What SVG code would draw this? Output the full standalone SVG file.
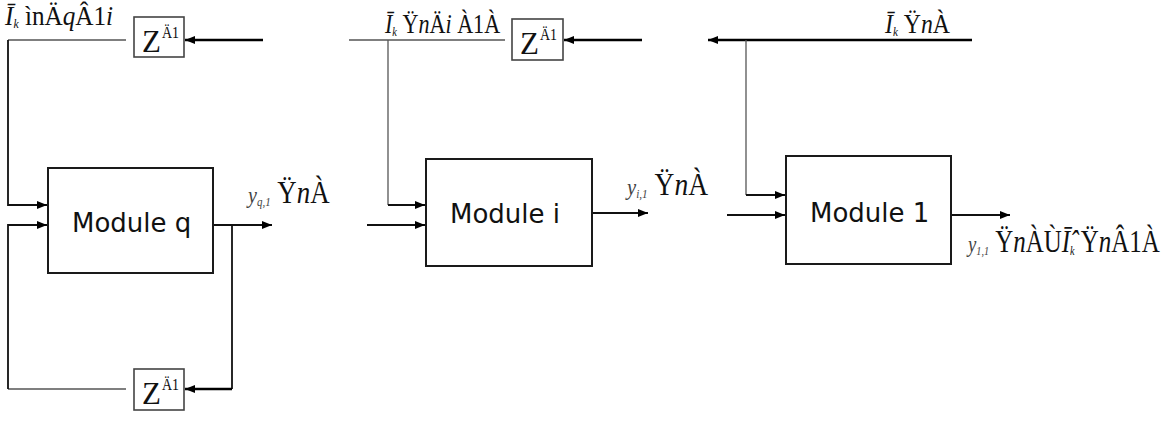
<svg xmlns="http://www.w3.org/2000/svg" width="1167" height="427" viewBox="0 0 1167 427">
<style>
.mod{fill:#fff;stroke:#1a1a1a;stroke-width:2}
.zb{fill:#fff;stroke:#444;stroke-width:1.6}
.mt{font-family:"DejaVu Sans",sans-serif;font-size:26px;fill:#111}
.lab{font-family:"Liberation Serif",serif;fill:#111}
.it{font-style:italic}
.sub{font-size:13px;font-style:italic}
.big{font-size:32px}
.mid{font-size:28px}
.yy{font-size:24px;font-style:italic;fill:#444}
.ys{font-size:13px;font-style:italic;fill:#444}
.thin{fill:none;stroke:#555;stroke-width:1.3}
.thk{fill:none;stroke:#000;stroke-width:2.4}
.med{fill:none;stroke:#111;stroke-width:1.8}
.zt{font-family:"Liberation Serif",serif;font-size:31px;fill:#111}
.zs{font-family:"Liberation Serif",serif;font-size:17px;fill:#111}
</style>
<defs>
<marker id="ah" markerWidth="10" markerHeight="8" refX="10" refY="4" orient="auto" markerUnits="userSpaceOnUse">
<path d="M0,0 L10,4 L0,8 Z" fill="#000"/>
</marker>
</defs>
<g id="connectors">
<path class="thin" d="M126,40 H8"/>
<path class="med" d="M8,40 V205 H47" marker-end="url(#ah)"/>
<path class="thk" d="M263,40 H185" marker-end="url(#ah)"/>
<path class="thin" d="M126,389 H8"/>
<path class="med" d="M8,389 V225 H47" marker-end="url(#ah)"/>
<path class="med" d="M213,225 H272" marker-end="url(#ah)"/>
<path class="med" d="M232,225 V389"/>
<path class="thk" d="M232,389 H185" marker-end="url(#ah)"/>
<path class="thin" d="M349,40 H505"/>
<path class="thin" d="M388,40 V205"/>
<path class="med" d="M388,205 H425" marker-end="url(#ah)"/>
<path class="thk" d="M642,40 H564" marker-end="url(#ah)"/>
<path class="med" d="M367,225 H425" marker-end="url(#ah)"/>
<path class="med" d="M592,213 H648" marker-end="url(#ah)"/>
<path class="thk" d="M972,40 H708" marker-end="url(#ah)"/>
<path class="thin" d="M746,40 V195"/>
<path class="med" d="M746,195 H785" marker-end="url(#ah)"/>
<path class="med" d="M727,215 H785" marker-end="url(#ah)"/>
<path class="med" d="M951,215 H1010" marker-end="url(#ah)"/>
</g>
<g id="module-q">
<rect class="mod" x="48" y="168" width="165" height="105"/>
<text class="mt" x="72" y="232">Module q</text>
</g>
<g id="module-i">
<rect class="mod" x="426" y="159" width="166" height="107"/>
<text class="mt" x="450" y="223">Module i</text>
</g>
<g id="module-1">
<rect class="mod" x="786" y="156" width="165" height="108"/>
<text class="mt" x="810" y="222">Module 1</text>
</g>
<g id="delay-q-top">
<rect class="zb" x="134" y="17" width="50" height="40"/>
<text class="zt" x="142" y="52">Z</text>
<text class="zs" transform="translate(162,38) scale(0.82,1)">Ä1</text>
</g>
<g id="delay-q-bottom">
<rect class="zb" x="134" y="369" width="50" height="41"/>
<text class="zt" x="142" y="404">Z</text>
<text class="zs" transform="translate(162,390) scale(0.82,1)">Ä1</text>
</g>
<g id="delay-i">
<rect class="zb" x="512" y="19" width="51" height="41"/>
<text class="zt" x="520" y="54">Z</text>
<text class="zs" transform="translate(540,40) scale(0.82,1)">Ä1</text>
</g>
<g id="labels">
<text class="lab mid" transform="translate(5,25) scale(0.9,1)"><tspan class="it">Ī</tspan><tspan class="sub" dy="3">k</tspan><tspan dy="-3"> ìn</tspan><tspan>Ä</tspan><tspan class="it">q</tspan><tspan>Â1</tspan><tspan class="it">i</tspan></text>
<text class="lab mid" transform="translate(385,33) scale(0.79,1)"><tspan class="it">Ī</tspan><tspan class="sub" dy="3">k</tspan><tspan dy="-3"> Ÿ</tspan><tspan class="it">n</tspan><tspan>Ä</tspan><tspan class="it">i</tspan><tspan> À1À</tspan></text>
<text class="lab mid" transform="translate(885,33) scale(0.85,1)"><tspan class="it">Ī</tspan><tspan class="sub" dy="3">k</tspan><tspan dy="-3"> Ÿ</tspan><tspan class="it">n</tspan><tspan>À</tspan></text>
<text class="lab big" transform="translate(248,203) scale(0.84,1)"><tspan class="yy">y</tspan><tspan class="ys" dy="3">q,1</tspan><tspan dy="-3"> Ÿ</tspan><tspan class="it">n</tspan><tspan>À</tspan></text>
<text class="lab big" transform="translate(627,195) scale(0.86,1)"><tspan class="yy">y</tspan><tspan class="ys" dy="3">i,1</tspan><tspan dy="-3"> Ÿ</tspan><tspan class="it">n</tspan><tspan>À</tspan></text>
<text class="lab big" transform="translate(968,252) scale(0.78,1)"><tspan class="yy">y</tspan><tspan class="ys" dy="3" font-style="normal">1,1</tspan><tspan dy="-3"> Ÿ</tspan><tspan class="it">n</tspan><tspan>ÀÙ</tspan><tspan class="it">Ī̂</tspan><tspan class="sub" dy="3">k</tspan><tspan dy="-3"> Ÿ</tspan><tspan class="it">n</tspan><tspan>Â1À</tspan></text>
</g>
</svg>
